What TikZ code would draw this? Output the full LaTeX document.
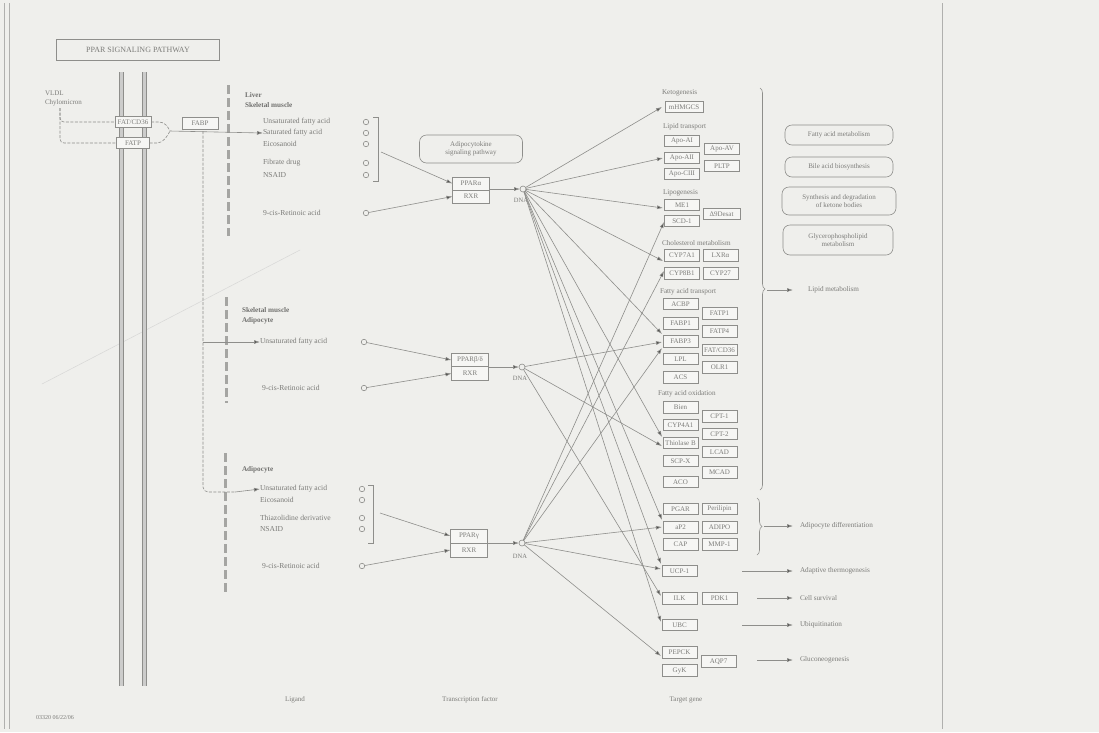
\documentclass[tikz,border=0pt]{standalone}
\usepackage{fontspec}
\setmainfont{Liberation Serif}
\usetikzlibrary{arrows.meta,decorations.pathreplacing,calc}
\definecolor{bg}{HTML}{EFEFEC}
\definecolor{ln}{HTML}{8E8E8B}
\definecolor{tx}{HTML}{7C7C79}
\definecolor{dk}{HTML}{4C4C4A}
\definecolor{boxfill}{HTML}{F6F6F4}
\begin{document}
\begin{tikzpicture}[x=1pt,y=-1pt,
  every node/.style={inner sep=0pt,outer sep=0pt,text=tx},
  lbl/.style={anchor=west,font=\fontsize{7.6}{8}\selectfont},
  hdr/.style={anchor=west,font=\fontsize{7.2}{8}\selectfont\bfseries,text=dk!80},
  grp/.style={anchor=west,font=\fontsize{7.2}{8}\selectfont},
  gene/.style={draw=ln,fill=boxfill,line width=0.6,minimum width=35,minimum height=11.5,font=\fontsize{7}{8}\selectfont},
  ppar/.style={draw=ln,fill=boxfill,line width=0.6,minimum width=37,minimum height=13,font=\fontsize{7}{8}\selectfont},
  mapbox/.style={draw=ln,rounded corners=7,line width=0.6,align=center,font=\fontsize{7}{8}\selectfont},
  dot/.style={circle,draw=ln,line width=0.6,minimum size=5.5},
  edge/.style={draw=ln,line width=0.6},
  arr/.style={edge,-{Latex[length=6,width=4,fill=dk]}},
  dsh/.style={edge,dash pattern=on 3 off 1.5},
  comp/.style={draw=ln!80,line width=3,dash pattern=on 9 off 4},
  outcome/.style={anchor=west,font=\fontsize{7.2}{8}\selectfont},
  bottom/.style={font=\fontsize{7}{8}\selectfont}]

% page and frame
\fill[bg] (0,0) rectangle (1099,732);
\useasboundingbox (0,0) rectangle (1099,732);
\draw[ln!70,line width=0.8] (4,3) -- (4,729);
\draw[ln!70,line width=0.8] (9,3) -- (9,729);
\draw[ln!70,line width=0.8] (942,3) -- (942,729);
% faint scratch across the left part of the sheet
\draw[ln!35,line width=0.5] (42,384) -- (300,250);

% title
\node[draw=ln,line width=0.8,minimum width=163,minimum height=21,font=\fontsize{8}{9}\selectfont] (title) at (138,50) {PPAR SIGNALING PATHWAY};

% cell membrane
\foreach \mx in {121,144}{
  \draw[ln,line width=1] (\mx-2,72) -- (\mx-2,686);
  \draw[ln,line width=1] (\mx+2,72) -- (\mx+2,686);
  \fill[ln!45] (\mx-1.5,72) rectangle (\mx+1.5,686);
}

% uptake at the membrane
\node[anchor=west,font=\fontsize{7}{8}\selectfont] (vldl) at (45,93) {VLDL};
\node[anchor=west,font=\fontsize{7}{8}\selectfont] (chylo) at (45,103) {Chylomicron};
\node[gene,minimum width=36] (fatcd) at (133,122) {FAT/CD36};
\node[gene,minimum width=33] (fatp) at (133,143) {FATP};
\node[gene,minimum width=36,minimum height=12] (fabp) at (200,123.5) {FABP};
\coordinate (vsplit) at (60,108);
\coordinate (merge) at (170,131);
\coordinate (down) at (203,131);
\draw[dsh,rounded corners=4] (vsplit) |- (fatcd.west);
\draw[dsh,rounded corners=4] (vsplit) |- (fatp.west);
\draw[dsh] (fatcd.east) -- ++(8,0) .. controls +(6,0) and +(-2,-4) .. (merge);
\draw[dsh] (fatp.east) -- ++(8,0) .. controls +(6,0) and +(-2,4) .. (merge);

% compartment separators
\draw[comp] (228,85) -- (228,236);
\draw[comp] (226,297) -- (226,403);
\draw[comp] (225,453) -- (225,593);

% ---------- Liver / skeletal muscle ----------
\node[hdr] (h1a) at (245,95) {Liver};
\node[hdr] (h1b) at (245,105.5) {Skeletal muscle};
\node[lbl] (l1) at (263,122) {Unsaturated fatty acid};
\node[lbl] (l2) at (263,133) {Saturated fatty acid};
\node[lbl] (l3) at (263,144) {Eicosanoid};
\node[lbl] (l4) at (263,163) {Fibrate drug};
\node[lbl] (l5) at (263,175) {NSAID};
\node[lbl] (l6) at (263,213) {9-cis-Retinoic acid};
\foreach \n/\yy in {c1/122,c2/133,c3/144,c4/163,c5/175,c6/213}
  \node[dot] (\n) at (366,\yy) {};
\draw[edge] (373,117) -- (378,117) -- (378,181) -- (373,181);
\coordinate (br1) at (381,152);

\node[mapbox,minimum width=103,minimum height=28] (adipok) at (471,149) {Adipocytokine\\signaling pathway};
\node[ppar] (ppara) at (471,183.5) {PPARα};
\node[ppar] (rxr1) at (471,196.5) {RXR};
\node[dot,minimum size=6] (dna1) at (523,189) {};
\node[font=\fontsize{6.5}{7}\selectfont] (dna1t) at (521,200) {DNA};
\draw[arr] (br1) -- (ppara.west);
\draw[arr] (c6) -- (rxr1.west);
\draw[arr] (ppara.east |- dna1) -- (dna1);

% fatty acid entry lines
\draw[arr] (merge) -- (l2.west);
\draw[dsh,rounded corners=5] (down) -- (203,492) -- (235,492);

% ---------- Skeletal muscle / adipocyte ----------
\node[hdr] (h2a) at (242,310) {Skeletal muscle};
\node[hdr] (h2b) at (242,321) {Adipocyte};
\node[lbl] (m1) at (260,342) {Unsaturated fatty acid};
\node[lbl] (m2) at (262,388) {9-cis-Retinoic acid};
\node[dot] (cm1) at (364,342) {};
\node[dot] (cm2) at (364,388) {};
\node[ppar,minimum height=13.5] (pparb) at (470,360) {PPARβ/δ};
\node[ppar,minimum height=13.5] (rxr2) at (470,373.5) {RXR};
\node[dot,minimum size=6] (dna2) at (522,367) {};
\node[font=\fontsize{6.5}{7}\selectfont] (dna2t) at (520,378) {DNA};
\coordinate (br2) at (203,342);
\draw[arr] (br2) -- (m1.west);
\draw[arr] (cm1) -- (pparb.west);
\draw[arr] (cm2) -- (rxr2.west);
\draw[arr] (pparb.east |- dna2) -- (dna2);

% ---------- Adipocyte ----------
\node[hdr] (h3) at (242,470) {Adipocyte};
\node[lbl] (a1) at (260,489) {Unsaturated fatty acid};
\node[lbl] (a2) at (260,500) {Eicosanoid};
\node[lbl] (a3) at (260,518) {Thiazolidine derivative};
\node[lbl] (a4) at (260,529) {NSAID};
\node[lbl] (a5) at (262,566) {9-cis-Retinoic acid};
\foreach \n/\yy in {ca1/489,ca2/500,ca3/518,ca4/529,ca5/566}
  \node[dot] (\n) at (362,\yy) {};
\draw[edge] (368,485) -- (373,485) -- (373,543) -- (368,543);
\coordinate (br3) at (380,513);
\node[ppar,minimum height=14] (pparg) at (469,536) {PPARγ};
\node[ppar,minimum height=14] (rxr3) at (469,550) {RXR};
\node[dot,minimum size=6] (dna3) at (522,543) {};
\node[font=\fontsize{6.5}{7}\selectfont] (dna3t) at (520,556) {DNA};
\draw[arr] (235,492) -- (a1.west);
\draw[arr] (br3) -- (pparg.west);
\draw[arr] (ca5) -- (rxr3.west);
\draw[arr] (pparg.east |- dna3) -- (dna3);

% ---------- Target genes ----------
\node[grp] (g1) at (662,93) {Ketogenesis};
\node[gene,minimum width=38] (mhmgcs) at (684,107) {mHMGCS};
\node[grp] (g2) at (663,127) {Lipid transport};
\node[gene] (apoai) at (682,141) {Apo-AI};
\node[gene] (apoaii) at (682,158) {Apo-AII};
\node[gene] (apociii) at (682,174) {Apo-CIII};
\node[gene] (apoav) at (722,149) {Apo-AV};
\node[gene] (pltp) at (722,166) {PLTP};
\node[grp] (g3) at (663,193) {Lipogenesis};
\node[gene] (me1) at (682,205) {ME1};
\node[gene] (scd1) at (682,221) {SCD-1};
\node[gene,minimum width=37] (d9) at (721.5,214) {Δ9Desat};
\node[grp] (g4) at (662,243) {Cholesterol metabolism};
\node[gene] (cyp7a1) at (682,255.5) {CYP7A1};
\node[gene] (lxra) at (720.5,255.5) {LXRα};
\node[gene] (cyp8b1) at (682,273.5) {CYP8B1};
\node[gene] (cyp27) at (720.5,273.5) {CYP27};
\node[grp] (g5) at (660,292) {Fatty acid transport};
\node[gene] (acbp) at (680.5,304) {ACBP};
\node[gene] (fabp1) at (680.5,323.5) {FABP1};
\node[gene] (fabp3) at (680.5,341.5) {FABP3};
\node[gene] (lpl) at (680.5,359) {LPL};
\node[gene] (acs) at (680.5,377.5) {ACS};
\node[gene] (fatp1) at (719.5,313.5) {FATP1};
\node[gene] (fatp4) at (719.5,331.5) {FATP4};
\node[gene] (cd36) at (719.5,350) {FAT/CD36};
\node[gene] (olr1) at (719.5,367.5) {OLR1};
\node[grp] (g6) at (658,394) {Fatty acid oxidation};
\node[gene] (bien) at (680.5,407.5) {Bien};
\node[gene] (cyp4a1) at (680.5,425) {CYP4A1};
\node[gene] (thiol) at (680.5,443) {Thiolase B};
\node[gene] (scpx) at (680.5,461) {SCP-X};
\node[gene] (aco) at (680.5,482) {ACO};
\node[gene] (cpt1) at (719.5,416.5) {CPT-1};
\node[gene] (cpt2) at (719.5,434) {CPT-2};
\node[gene] (lcad) at (719.5,452) {LCAD};
\node[gene] (mcad) at (719.5,472.5) {MCAD};
\node[gene] (pgar) at (680.5,509) {PGAR};
\node[gene] (perili) at (719.5,509) {Perilipin};
\node[gene] (ap2) at (680.5,527.5) {aP2};
\node[gene] (adipo) at (719.5,527.5) {ADIPO};
\node[gene] (cap) at (680.5,544.5) {CAP};
\node[gene] (mmp1) at (719.5,544.5) {MMP-1};
\node[gene] (ucp1) at (679.5,571) {UCP-1};
\node[gene] (ilk) at (679.5,598.5) {ILK};
\node[gene] (pdk1) at (719.5,598.5) {PDK1};
\node[gene] (ubc) at (679.5,625) {UBC};
\node[gene] (pepck) at (679.5,652.5) {PEPCK};
\node[gene] (gyk) at (679.5,670.5) {GyK};
\node[gene] (aqp7) at (718.5,661.5) {AQP7};

% arrow landing points on the target groups
\coordinate (tK) at (662,107);
\coordinate (tL) at (663,158);
\coordinate (tG1) at (663,208);
\coordinate (tG3) at (664,222);
\coordinate (tC1) at (663,261);
\coordinate (tC3) at (664,271);
\coordinate (tT1) at (662,334);
\coordinate (tT2) at (662,342);
\coordinate (tT3) at (662,348);
\coordinate (tO1) at (662,437);
\coordinate (tO2) at (662,446);
\coordinate (tA1) at (662,520);
\coordinate (tA3) at (662,527);
\coordinate (tU1) at (661,564);
\coordinate (tU3) at (661,569);
\coordinate (tI) at (661,596);
\coordinate (tB) at (661,622);
\coordinate (tP) at (661,656);

\foreach \t in {tK,tL,tG1,tC1,tT1,tO1,tA1,tU1,tB}
  \draw[arr] (dna1) -- (\t);
\foreach \t in {tT2,tO2,tI}
  \draw[arr] (dna2) -- (\t);
\foreach \t in {tG3,tC3,tT3,tA3,tU3,tP}
  \draw[arr] (dna3) -- (\t);

% outcome braces and arrows
\draw[edge,decorate,decoration={brace,amplitude=5}] (760,88) -- (760,490);
\coordinate (lipbr) at (767,290);
\node[outcome] (lipid) at (808,290) {Lipid metabolism};
\draw[arr] (lipbr) -- ++(26,0);

\node[mapbox,minimum width=108,minimum height=20] (fam) at (839,135) {Fatty acid metabolism};
\node[mapbox,minimum width=108,minimum height=20] (bab) at (839,167) {Bile acid biosynthesis};
\node[mapbox,minimum width=114,minimum height=28] (ket) at (839,201) {Synthesis and degradation\\of ketone bodies};
\node[mapbox,minimum width=110,minimum height=30] (gpl) at (838,240) {Glycerophospholipid\\metabolism};

\draw[edge,decorate,decoration={brace,amplitude=5}] (757,498) -- (757,555);
\coordinate (adbr) at (764,526);
\node[outcome] (adiff) at (800,526) {Adipocyte differentiation};
\draw[arr] (adbr) -- ++(29,0);

\coordinate (ucpo) at (742,571);
\node[outcome] (therm) at (800,571) {Adaptive thermogenesis};
\draw[arr] (ucpo) -- (793,571);
\coordinate (ilko) at (757,598);
\node[outcome] (surv) at (800,598) {Cell survival};
\draw[arr] (ilko) -- (793,598);
\coordinate (ubco) at (742,625);
\node[outcome] (ubiq) at (800,625) {Ubiquitination};
\draw[arr] (ubco) -- (793,625);
\coordinate (glco) at (757,660);
\node[outcome] (gluco) at (800,660) {Gluconeogenesis};
\draw[arr] (glco) -- (793,660);

% column captions
\node[bottom] (cap1) at (295,700) {Ligand};
\node[bottom] (cap2) at (470,700) {Transcription factor};
\node[bottom] (cap3) at (686,700) {Target gene};
\node[anchor=west,font=\fontsize{6}{7}\selectfont] (mapid) at (36,718) {03320 06/22/06};
\end{tikzpicture}
\end{document}
